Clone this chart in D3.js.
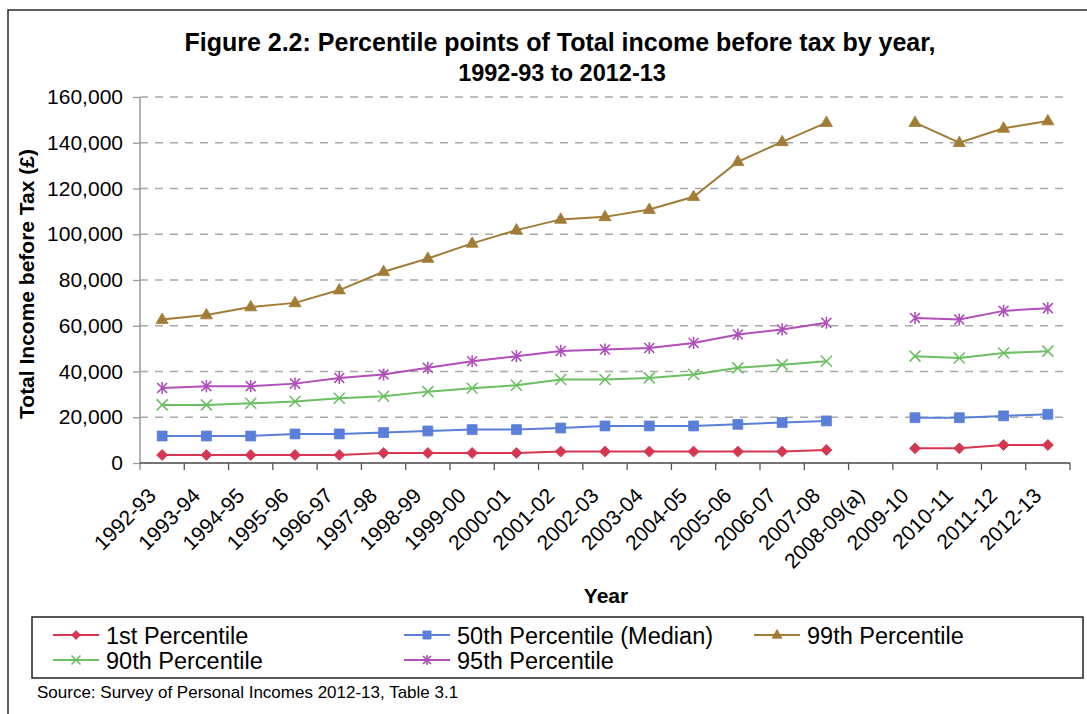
<!DOCTYPE html>
<html>
<head>
<meta charset="utf-8">
<script src="https://cdn.jsdelivr.net/npm/d3@7"></script>
<style>
  html, body { margin: 0; padding: 0; background: #fff; }
  svg { display: block; font-family: Arial, "Liberation Sans", sans-serif; }
</style>
</head>
<body>
<svg id="chart" width="1087" height="714"></svg>
<script>
// Tax years (2008-09 has no published figures)
const years = ["1992-93","1993-94","1994-95","1995-96","1996-97","1997-98","1998-99","1999-00",
  "2000-01","2001-02","2002-03","2003-04","2004-05","2005-06","2006-07","2007-08","2008-09(a)",
  "2009-10","2010-11","2011-12","2012-13"];

// Percentile points of total income before tax (£)
const p1  = [3500,3500,3500,3500,3500,4400,4400,4400,4400,5000,5000,5000,5000,5000,5000,5700,null,6400,6400,7900,7900];
const p50 = [11800,11800,11800,12700,12700,13300,14000,14600,14600,15300,16200,16200,16200,16900,17700,18400,null,19800,19800,20600,21300];
const p90 = [25400,25400,26100,26900,28300,29200,31200,32700,34000,36500,36500,37200,38700,41600,43000,44500,null,46700,45900,48100,48900];
const p95 = [32800,33600,33600,34700,37200,38700,41600,44500,46700,49000,49600,50300,52500,56200,58400,61300,null,63400,62700,66500,67700];
const p99 = [62700,64700,68200,70000,75600,83600,89400,96000,101800,106500,107600,110800,116400,131700,140400,148800,null,148800,140000,146300,149500];

const yTicks = [0,20000,40000,60000,80000,100000,120000,140000,160000];

const series = [
  { name: "1st Percentile",           values: p1,  color: "#d6364f", marker: "diamond" },
  { name: "50th Percentile (Median)", values: p50, color: "#5a7fd9", marker: "square" },
  { name: "99th Percentile",          values: p99, color: "#a27c36", marker: "triangle" },
  { name: "90th Percentile",          values: p90, color: "#6cbf62", marker: "cross" },
  { name: "95th Percentile",          values: p95, color: "#b04fb9", marker: "star" }
];

const svg = d3.select("#chart");
const plotLeft = 140, plotRight = 1070, plotTop = 97, plotBottom = 463;

// Outer frame
svg.append("path")
  .attr("d", `M8,714 L8,10 L1087,10`)
  .attr("fill", "none").attr("stroke", "#2b2b2b").attr("stroke-width", 1.5);

const x = d3.scaleBand().domain(years).range([plotLeft, plotRight]).paddingInner(0).paddingOuter(0);
const y = d3.scaleLinear().domain([0, 160000]).range([plotBottom, plotTop]);

// Gridlines
svg.append("g").selectAll("line")
  .data(yTicks.filter(d => d > 0))
  .join("line")
  .attr("x1", plotLeft).attr("x2", plotRight)
  .attr("y1", d => y(d)).attr("y2", d => y(d))
  .attr("stroke", "#a8a8a8").attr("stroke-width", 1.3)
  .attr("stroke-dasharray", "8,7");

// Y axis
const yAxis = svg.append("g").attr("transform", `translate(${plotLeft},0)`)
  .call(d3.axisLeft(y).tickValues(yTicks).tickSize(7).tickPadding(10)
    .tickFormat(d3.format(",")));
yAxis.select(".domain").attr("stroke", "#999").attr("stroke-width", 1.5)
  .attr("d", `M0,${plotTop}V${plotBottom + 7}`);
yAxis.selectAll(".tick line").attr("stroke", "#999").attr("stroke-width", 1.3);
yAxis.selectAll(".tick text").attr("font-size", 21).attr("fill", "#000")
  .attr("font-family", "Arial, 'Liberation Sans', sans-serif");

// X axis: ticks between categories
const xg = svg.append("g");
xg.append("line").attr("x1", plotLeft).attr("x2", plotRight).attr("y1", plotBottom).attr("y2", plotBottom)
  .attr("stroke", "#444").attr("stroke-width", 1.5);
const boundaries = years.map(d => x(d)).concat([x(years[years.length - 1]) + x.bandwidth()]);
xg.selectAll("line.tk").data(boundaries.slice(1)).join("line").attr("class", "tk")
  .attr("x1", d => d).attr("x2", d => d).attr("y1", plotBottom).attr("y2", plotBottom + 7)
  .attr("stroke", "#555").attr("stroke-width", 1.3);
xg.selectAll("text").data(years).join("text")
  .attr("transform", d => `translate(${x(d) + x.bandwidth() / 2 - 5},${plotBottom + 34}) rotate(-45)`)
  .attr("text-anchor", "end")
  .attr("font-size", 21).attr("fill", "#000")
  .text(d => d);

// Lines and markers
const line = d3.line()
  .defined(d => d.v != null)
  .x(d => x(d.year) + x.bandwidth() / 2)
  .y(d => y(d.v));

function markerPath(type, s) {
  switch (type) {
    case "diamond": return `M0,${-s}L${s},0L0,${s}L${-s},0Z`;
    case "square": return `M${-s*0.9},${-s*0.9}H${s*0.9}V${s*0.9}H${-s*0.9}Z`;
    case "triangle": return `M0,${-s*1.2}L${s*1.1},${s*0.7}L${-s*1.1},${s*0.7}Z`;
    case "cross": return `M${-s},${-s}L${s},${s}M${-s},${s}L${s},${-s}`;
    case "star": return `M${-s*0.9},${-s*0.9}L${s*0.9},${s*0.9}M${-s*0.9},${s*0.9}L${s*0.9},${-s*0.9}M0,${-s*1.1}V${s*1.1}`;
  }
}
function drawMarker(g, type, color, s) {
  const filled = type === "diamond" || type === "square" || type === "triangle";
  g.append("path").attr("d", markerPath(type, s))
    .attr("fill", filled ? color : "none")
    .attr("stroke", color)
    .attr("stroke-width", filled ? 0.8 : 1.6);
}

const plot = svg.append("g");
series.forEach(s => {
  const pts = years.map((yr, i) => ({ year: yr, v: s.values[i] }));
  plot.append("path").datum(pts)
    .attr("d", line)
    .attr("fill", "none").attr("stroke", s.color).attr("stroke-width", 2);
  pts.filter(p => p.v != null).forEach(p => {
    const g = plot.append("g")
      .attr("transform", `translate(${x(p.year) + x.bandwidth() / 2},${y(p.v)})`);
    drawMarker(g, s.marker, s.color, 5.5);
  });
});

// Title
svg.append("text").attr("x", 560).attr("y", 51).attr("text-anchor", "middle")
  .attr("font-size", 25).attr("font-weight", "bold")
  .text("Figure 2.2: Percentile points of Total income before tax by year,");
svg.append("text").attr("x", 562).attr("y", 81).attr("text-anchor", "middle")
  .attr("font-size", 23.5).attr("font-weight", "bold")
  .text("1992-93 to 2012-13");

// Axis titles
svg.append("text").attr("transform", "translate(34,284) rotate(-90)")
  .attr("text-anchor", "middle").attr("font-size", 21).attr("font-weight", "bold")
  .text("Total Income before Tax (£)");
svg.append("text").attr("x", 606).attr("y", 603).attr("text-anchor", "middle")
  .attr("font-size", 21).attr("font-weight", "bold")
  .text("Year");

// Legend
svg.append("rect").attr("x", 32).attr("y", 617).attr("width", 1051).attr("height", 61)
  .attr("fill", "#fff").attr("stroke", "#222").attr("stroke-width", 1.5);
const legendPos = [
  { x: 53, y: 635 }, { x: 404, y: 635 }, { x: 754, y: 635 },
  { x: 53, y: 660 }, { x: 404, y: 660 }
];
series.forEach((s, i) => {
  const p = legendPos[i];
  const g = svg.append("g").attr("transform", `translate(${p.x},${p.y})`);
  g.append("line").attr("x1", 0).attr("x2", 46).attr("y1", 0).attr("y2", 0)
    .attr("stroke", s.color).attr("stroke-width", 2);
  const m = g.append("g").attr("transform", "translate(23,0)");
  drawMarker(m, s.marker, s.color, 4.5);
  g.append("text").attr("x", 53).attr("y", 8.5).attr("font-size", 23.5).text(s.name);
});

// Source note
svg.append("text").attr("x", 37).attr("y", 698).attr("font-size", 17)
  .text("Source: Survey of Personal Incomes 2012-13, Table 3.1");
</script>
</body>
</html>
